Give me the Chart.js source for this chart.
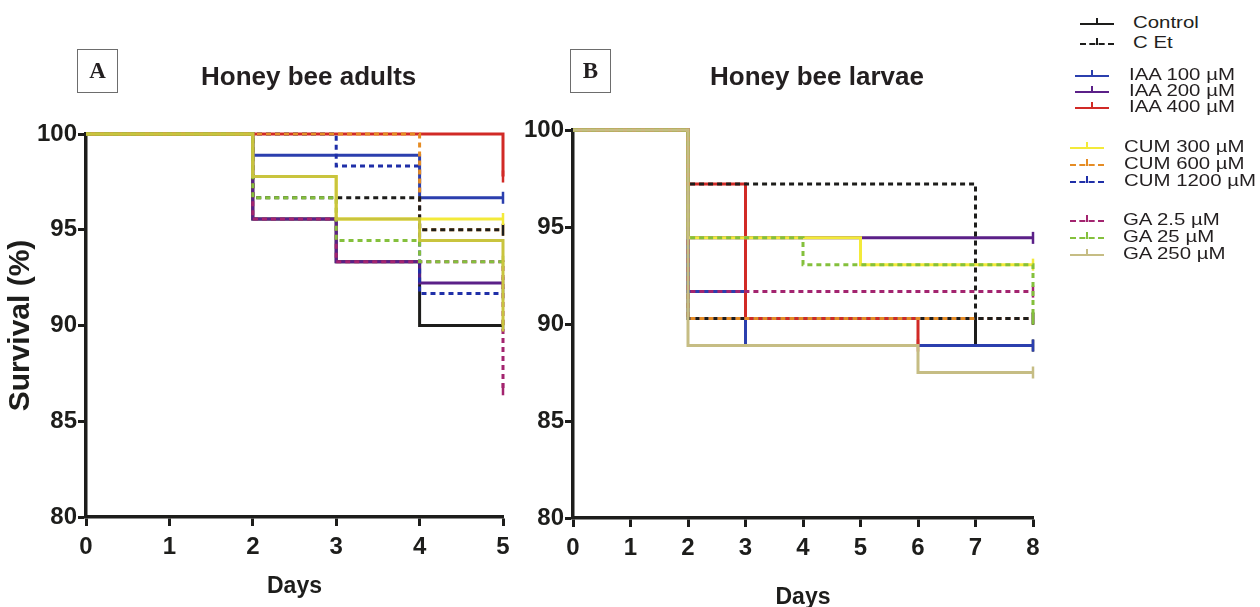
<!DOCTYPE html>
<html>
<head>
<meta charset="utf-8">
<script src="https://cdn.jsdelivr.net/npm/chart.js@4.4.1/dist/chart.umd.min.js"></script>
<style>
  body { margin: 0; background: #fff; width: 1260px; height: 607px; overflow: hidden; position: relative; font-family: "Liberation Sans", Arial, sans-serif; color: #231f20; }
  canvas { position: absolute; top: 0; }
  #chartA { left: 0; }
  #chartB { left: 520px; }
  .tag { position: absolute; width: 39px; height: 42px; border: 1px solid #6d6d6d; font: bold 23px "Liberation Serif", "Times New Roman", serif; text-align: center; line-height: 42px; }
  .title { position: absolute; font: bold 26px "Liberation Sans", Arial, sans-serif; white-space: nowrap; }
  .leg { position: absolute; font-size: 17px; white-space: nowrap; line-height: 18px; }
  .leg .txt { position: absolute; transform: scaleX(1.2); transform-origin: left center; }
  .sym { position: absolute; width: 34px; top: 9px; height: 0; }
  .sym i { position: absolute; left: 16px; top: -7px; width: 0; height: 7px; }
</style>
</head>
<body>
<canvas id="chartA" width="530" height="607"></canvas>
<canvas id="chartB" width="540" height="607"></canvas>
<div class="tag" style="left:77px;top:49px">A</div>
<div class="title" style="left:201px;top:61px">Honey bee adults</div>
<div class="tag" style="left:570px;top:49px">B</div>
<div class="title" style="left:710px;top:61px">Honey bee larvae</div>
<div id="legend"></div>
<script>
const seriesNames = ['Control', 'C Et', 'IAA 100 µM', 'IAA 200 µM', 'IAA 400 µM',
  'CUM 300 µM', 'CUM 600 µM', 'CUM 1200 µM', 'GA 2.5 µM', 'GA 25 µM', 'GA 250 µM'];
const seriesColors = ['#1d1d1b', '#1d1d1b', '#2b3fae', '#5b2088', '#d12a26',
  '#f3ea3a', '#e58c24', '#1f2fa8', '#a3246f', '#84c03c', '#c6bd84'];
// the adults panel prints GA 250 µM in a more olive tone
const adultsColors = seriesColors.map((c, i) => i === 10 ? '#c9c43e' : c);
const seriesDashed = [false, true, false, false, false, false, true, true, true, true, false];
// lower = drawn on top
const seriesOrder = [10, 4, 9, 8, 7, 2, 5, 6, 3, 1, 0];

// Honey bee adults: [day, survival %]
const adultsControl = [[0, 100], [2, 95.56], [3, 93.33], [4, 90.0], [5, 90.0]];
const adultsCEt = [[0, 100], [2, 96.67], [4, 95.0], [5, 95.0]];
const adultsIAA100 = [[0, 100], [2, 98.89], [4, 96.67], [5, 96.67]];
const adultsIAA200 = [[0, 100], [2, 95.56], [3, 93.33], [4, 92.22], [5, 92.22]];
const adultsIAA400 = [[0, 100], [5, 97.78]];
const adultsCUM300 = [[0, 100], [2, 97.78], [3, 95.56], [5, 95.56]];
const adultsCUM600 = [[0, 100], [4, 95.0], [5, 95.0]];
const adultsCUM1200 = [[0, 100], [3, 98.33], [4, 91.67], [5, 91.67]];
const adultsGA25 = [[0, 100], [2, 95.56], [3, 93.33], [4, 93.33], [5, 86.67]];
const adultsGA250 = [[0, 100], [2, 96.67], [3, 94.44], [4, 93.33], [5, 93.33]];
const adultsGA2500 = [[0, 100], [2, 97.78], [3, 95.56], [4, 94.44], [5, 90.0]];

// Honey bee larvae: [day, survival %]
const larvaeControl = [[0, 100], [2, 90.28], [7, 88.89], [8, 88.89]];
const larvaeCEt = [[0, 100], [2, 97.22], [7, 90.28], [8, 90.28]];
const larvaeIAA100 = [[0, 100], [2, 91.67], [3, 88.89], [8, 88.89]];
const larvaeIAA200 = [[0, 100], [2, 94.44], [8, 94.44]];
const larvaeIAA400 = [[0, 100], [2, 97.22], [3, 90.28], [6, 88.89]];
const larvaeCUM300 = [[0, 100], [2, 94.44], [5, 93.06], [8, 93.06]];
const larvaeCUM600 = [[0, 100], [2, 90.28], [8, 90.28]];
const larvaeCUM1200 = [[0, 100], [2, 90.28], [8, 90.28]];
const larvaeGA25 = [[0, 100], [2, 91.67], [8, 91.67]];
const larvaeGA250 = [[0, 100], [2, 94.44], [4, 93.06], [8, 90.28]];
const larvaeGA2500 = [[0, 100], [2, 88.89], [6, 87.5], [8, 87.5]];

const adultsData = [adultsControl, adultsCEt, adultsIAA100, adultsIAA200, adultsIAA400,
  adultsCUM300, adultsCUM600, adultsCUM1200, adultsGA25, adultsGA250, adultsGA2500];
const larvaeData = [larvaeControl, larvaeCEt, larvaeIAA100, larvaeIAA200, larvaeIAA400,
  larvaeCUM300, larvaeCUM600, larvaeCUM1200, larvaeGA25, larvaeGA250, larvaeGA2500];

const yTicks = [80, 85, 90, 95, 100];

const tickFont = { family: '"Liberation Sans", Arial', size: 24, weight: 'bold' };
const titleFont = { family: '"Liberation Sans", Arial', size: 23, weight: 'bold' };
const yTitleFont = { family: '"Liberation Sans", Arial', size: 30, weight: 'bold' };

function buildDatasets(panelData, colors) {
  return panelData.map((pts, i) => ({
    label: seriesNames[i],
    data: pts.map(p => ({ x: p[0], y: p[1] })),
    borderColor: colors[i],
    backgroundColor: colors[i],
    borderWidth: 3,
    borderDash: seriesDashed[i] ? [5, 4] : [],
    stepped: 'before',
    fill: false,
    order: seriesOrder[i],
    clip: 8,
    pointStyle: 'line',
    rotation: 90,
    pointBorderWidth: 2.5,
    pointRadius: pts.map((p, j) => j === pts.length - 1 ? 6 : 0),
    pointHoverRadius: 0
  }));
}

function makePanel(canvasId, panelData, colors, xMax, yWidth, xHeight, padTop, showYTitle, daysPad) {
  const ctx = document.getElementById(canvasId).getContext('2d');
  new Chart(ctx, {
    type: 'line',
    data: { datasets: buildDatasets(panelData, colors) },
    options: {
      responsive: false,
      animation: false,
      layout: { padding: { top: padTop, right: 27, left: 0, bottom: 0 } },
      plugins: { legend: { display: false }, tooltip: { enabled: false } },
      scales: {
        x: {
          type: 'linear', min: 0, max: xMax,
          border: { display: true, color: '#1d1d1b', width: 3.5 },
          grid: { display: true, drawOnChartArea: false, tickLength: 9, tickWidth: 3, tickColor: '#1d1d1b' },
          ticks: { stepSize: 1, color: '#1d1d1b', font: tickFont, padding: 7 },
          title: { display: true, text: 'Days', color: '#1d1d1b', font: titleFont, padding: { top: 0, bottom: daysPad } },
          afterFit: s => { s.height = xHeight; }
        },
        y: {
          min: 80, max: 100,
          afterBuildTicks: s => { s.ticks = yTicks.map(v => ({ value: v })); },
          border: { display: true, color: '#1d1d1b', width: 3.5 },
          grid: { display: true, drawOnChartArea: false, tickLength: 8, tickWidth: 3, tickColor: '#1d1d1b' },
          ticks: { color: '#1d1d1b', font: tickFont, padding: 1 },
          title: { display: showYTitle, text: 'Survival (%)', color: '#1d1d1b', font: yTitleFont, padding: { top: 3, bottom: 0 } },
          afterFit: s => { s.width = yWidth; }
        }
      }
    }
  });
}

makePanel('chartA', adultsData, adultsColors, 5, 86, 90, 134, true, 7);
makePanel('chartB', larvaeData, seriesColors, 8, 53, 89, 130, false, -4);

// legend
const legendTops = [14, 34, 66, 82, 98, 138, 155, 172, 211, 228, 245];
const legendSymLeft = [1080, 1080, 1075, 1075, 1075, 1070, 1070, 1070, 1070, 1070, 1070];
const legendTextLeft = [1133, 1133, 1129, 1129, 1129, 1124, 1124, 1124, 1123, 1123, 1123];
const legendEl = document.getElementById('legend');
seriesNames.forEach((name, i) => {
  const item = document.createElement('div');
  item.className = 'leg';
  item.style.top = legendTops[i] + 'px';
  item.style.left = legendSymLeft[i] + 'px';
  const sym = document.createElement('span');
  sym.className = 'sym';
  sym.style.borderTop = '2.5px ' + (seriesDashed[i] ? 'dashed ' : 'solid ') + seriesColors[i];
  const tick = document.createElement('i');
  tick.style.borderLeft = '2px solid ' + seriesColors[i];
  sym.appendChild(tick);
  const txt = document.createElement('span');
  txt.className = 'txt';
  txt.textContent = name;
  txt.style.left = (legendTextLeft[i] - legendSymLeft[i]) + 'px';
  item.appendChild(sym);
  item.appendChild(txt);
  legendEl.appendChild(item);
});
</script>
</body>
</html>
